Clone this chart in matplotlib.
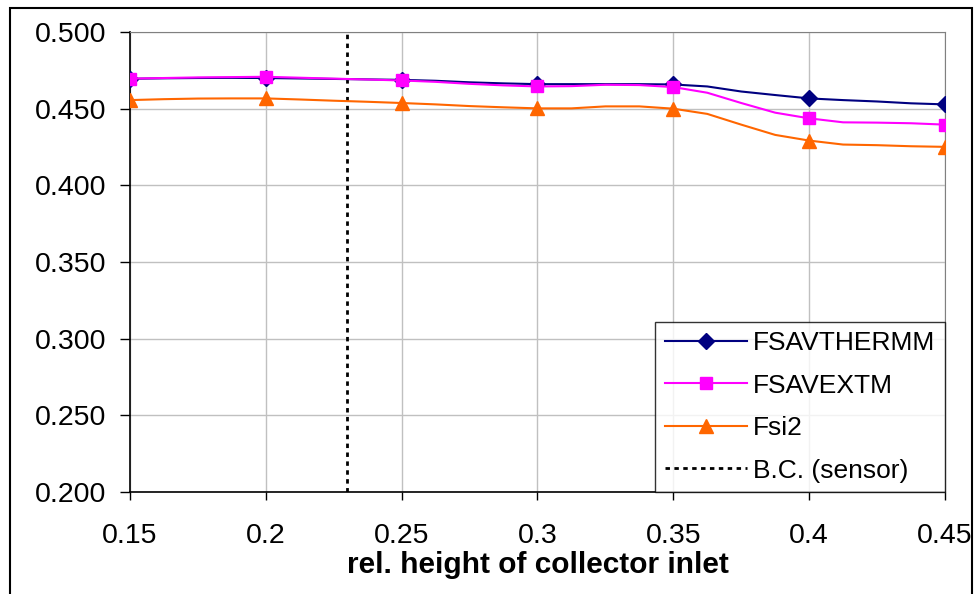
import numpy as np
import matplotlib
matplotlib.use("Agg")
import matplotlib.pyplot as plt
from matplotlib.patches import Rectangle

plt.rcParams['font.family'] = ['Liberation Sans', 'DejaVu Sans']

# data (line points every 0.0125, markers every 0.05)
x = [0.15, 0.1625, 0.175, 0.1875, 0.2, 0.2125, 0.225, 0.2375, 0.25,
     0.2625, 0.275, 0.2875, 0.3, 0.3125, 0.325, 0.3375, 0.35,
     0.3625, 0.375, 0.3875, 0.4, 0.4125, 0.425, 0.4375, 0.45]
fsavthermm = [0.4695, 0.4698, 0.4700, 0.4701, 0.4700, 0.4697, 0.4694, 0.4691, 0.4688,
              0.4682, 0.4672, 0.4665, 0.4660, 0.4660, 0.4660, 0.4660, 0.4658,
              0.4645, 0.4612, 0.4589, 0.4567, 0.4556, 0.4547, 0.4535, 0.4528]
fsavextm = [0.4696, 0.4700, 0.4704, 0.4706, 0.4708, 0.4702, 0.4696, 0.4690, 0.4684,
            0.4675, 0.4662, 0.4652, 0.4645, 0.4647, 0.4656, 0.4654, 0.4641,
            0.4604, 0.4537, 0.4474, 0.4437, 0.4411, 0.4409, 0.4405, 0.4396]
fsi2 = [0.4556, 0.4562, 0.4566, 0.4567, 0.4567, 0.4560, 0.4552, 0.4545, 0.4537,
        0.4528, 0.4517, 0.4509, 0.4502, 0.4502, 0.4515, 0.4515, 0.4500,
        0.4466, 0.4396, 0.4329, 0.4292, 0.4266, 0.4262, 0.4255, 0.4251]
bc_x = [0.23, 0.23]
bc_y = [0.2, 0.5]

xticks = [0.15, 0.2, 0.25, 0.3, 0.35, 0.4, 0.45]
xticklabels = ["0.15", "0.2", "0.25", "0.3", "0.35", "0.4", "0.45"]
yticks = [0.2, 0.25, 0.3, 0.35, 0.4, 0.45, 0.5]

fig = plt.figure(figsize=(9.75, 5.94), dpi=100)
ax = fig.add_axes([0.1333, 0.1717, 0.8359, 0.7744])

ax.plot(x, fsavthermm, color="#000080", lw=1.5, marker="D", ms=8.5,
        markevery=4, label="FSAVTHERMM", zorder=5)
ax.plot(x, fsavextm, color="#FF00FF", lw=1.5, marker="s", ms=9,
        markevery=4, label="FSAVEXTM", zorder=6)
ax.plot(x, fsi2, color="#FF6600", lw=1.5, marker="^", ms=10,
        markevery=4, label="Fsi2", zorder=4)
ax.plot(bc_x, bc_y, color="black", lw=2, ls=(0, (1.6, 1.6)),
        label="B.C. (sensor)", zorder=3)

ax.set_xlim(0.15, 0.45)
ax.set_ylim(0.2, 0.5)
ax.set_xticks(xticks)
ax.set_xticklabels(xticklabels)
ax.set_yticks(yticks)
ax.set_yticklabels(["%.3f" % v for v in yticks])
ax.grid(True, color="#c0c0c0", lw=1)
ax.set_axisbelow(True)

ax.tick_params(axis="y", length=7, width=1, pad=10, labelsize=20.5)
ax.tick_params(axis="x", length=6, width=1, pad=16, labelsize=20.5)
for s in ["top", "right"]:
    ax.spines[s].set_color("#808080")
for s in ["left", "bottom"]:
    ax.spines[s].set_color("black")
    ax.spines[s].set_linewidth(1.2)

ax.set_xlabel("rel. height of collector inlet", fontsize=21.5, fontweight="bold",
              labelpad=2)

leg = ax.legend(loc="lower right", fontsize=19, frameon=True, fancybox=False,
                borderaxespad=0, handlelength=3.1, handletextpad=0.25,
                labelspacing=0.7, borderpad=0.36)
leg.get_frame().set_edgecolor("black")
leg.get_frame().set_linewidth(1)
leg.set_zorder(10)

fig.patches.append(Rectangle((10 / 975, -0.05), 962 / 975, 1.05 - 8 / 594,
                             transform=fig.transFigure, fill=False,
                             edgecolor="black", lw=1.5))

fig.savefig("out.png", dpi=100)
